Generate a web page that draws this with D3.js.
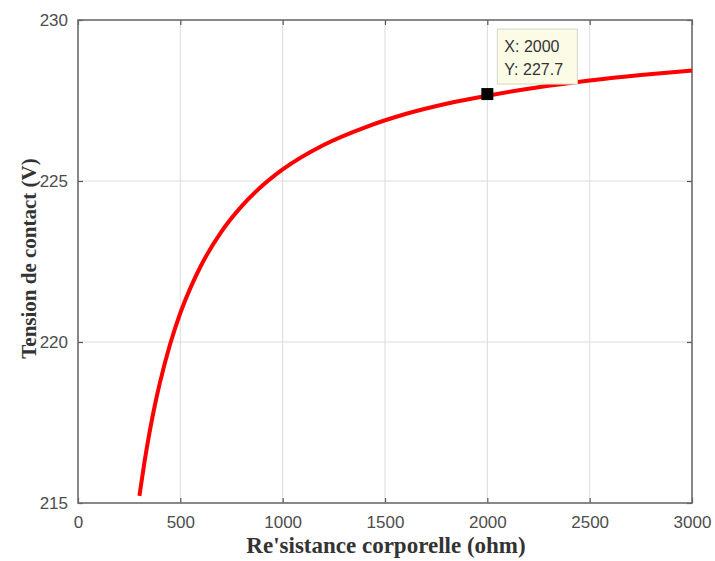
<!DOCTYPE html>
<html>
<head>
<meta charset="utf-8">
<script src="https://cdn.jsdelivr.net/npm/d3@7"></script>
<style>
  body { margin: 0; background: #fff; }
  .tick text { font-family: "Liberation Sans", Arial, sans-serif; font-size: 17px; fill: #4d4d4d; }
  .axislabel { font-family: "Liberation Serif", "Times New Roman", serif; font-weight: bold; fill: #333; }
</style>
</head>
<body>
<div id="chart"></div>
<script>
// resistance (ohm) and contact voltage (V)
var resistance = [300, 325, 350, 375, 400, 450, 500, 550, 600, 700, 800, 900, 1000, 1200, 1400, 1600, 1800, 2000, 2250, 2500, 2750, 3000];
var tension    = [215.22, 216.28, 217.21, 218.02, 218.73, 219.93, 220.9, 221.69, 222.36, 223.42, 224.22, 224.85, 225.36, 226.12, 226.66, 227.08, 227.4, 227.65, 227.91, 228.12, 228.29, 228.43];

var xTicks = [0, 500, 1000, 1500, 2000, 2500, 3000];
var yTicks = [215, 220, 225, 230];

var tipX = 2000, tipY = 227.7;

var W = 715, H = 561;
var margin = {top: 20, right: 23, bottom: 58, left: 78};
var w = W - margin.left - margin.right,
    h = H - margin.top - margin.bottom;

var svg = d3.select("#chart")
            .append("svg")
            .attr("width", W)
            .attr("height", H)
            .append("g")
            .attr("transform", "translate(" + margin.left + "," + margin.top + ")");

/***Scales***/
var xScale = d3.scaleLinear().domain([0, 3000]).range([0, w]);
var yScale = d3.scaleLinear().domain([215, 230]).range([h, 0]);

/***Grid***/
svg.append("g")
   .selectAll("line")
   .data(xTicks.slice(1, -1))
   .enter().append("line")
   .attr("x1", function(d){ return xScale(d); })
   .attr("x2", function(d){ return xScale(d); })
   .attr("y1", 0).attr("y2", h)
   .attr("stroke", "#dcdcdc").attr("stroke-width", 1);

svg.append("g")
   .selectAll("line")
   .data(yTicks.slice(1, -1))
   .enter().append("line")
   .attr("y1", function(d){ return yScale(d); })
   .attr("y2", function(d){ return yScale(d); })
   .attr("x1", 0).attr("x2", w)
   .attr("stroke", "#dcdcdc").attr("stroke-width", 1);

/***Axes***/
var xAxis = d3.axisBottom(xScale).tickValues(xTicks).tickFormat(d3.format("d"))
              .tickSizeInner(-5).tickSizeOuter(0).tickPadding(13);
var yAxis = d3.axisLeft(yScale).tickValues(yTicks).tickFormat(d3.format("d"))
              .tickSizeInner(-5).tickSizeOuter(0).tickPadding(10);
var xTop = d3.axisTop(xScale).tickValues(xTicks).tickSizeInner(-5).tickSizeOuter(0).tickFormat("");
var yRight = d3.axisRight(yScale).tickValues(yTicks).tickSizeInner(-5).tickSizeOuter(0).tickFormat("");

svg.append("g").attr("class", "xaxis").attr("transform", "translate(0," + h + ")").call(xAxis);
svg.append("g").attr("class", "yaxis").call(yAxis);
svg.append("g").attr("class", "xtop").call(xTop);
svg.append("g").attr("class", "yright").attr("transform", "translate(" + w + ",0)").call(yRight);

svg.selectAll(".domain").style("display", "none");
svg.selectAll(".tick line").attr("stroke", "#555").attr("stroke-width", 1.2);

/***Frame***/
svg.append("rect")
   .attr("x", 0).attr("y", 0)
   .attr("width", w).attr("height", h)
   .attr("fill", "none")
   .attr("stroke", "#6b6b6b")
   .attr("stroke-width", 1.6);

/***Curve***/
var data = resistance.map(function(r, i){ return {r: r, v: tension[i]}; });
var line = d3.line()
             .curve(d3.curveMonotoneX)
             .x(function(d){ return xScale(d.r); })
             .y(function(d){ return yScale(d.v); });

svg.append("path")
   .datum(data)
   .attr("d", line)
   .attr("fill", "none")
   .attr("stroke", "#f00")
   .attr("stroke-width", 4);

/***Data tip***/
svg.append("rect")
   .attr("x", xScale(tipX) - 6)
   .attr("y", yScale(tipY) - 6)
   .attr("width", 12).attr("height", 12)
   .attr("fill", "#000");

var tip = svg.append("g")
             .attr("transform", "translate(" + (xScale(tipX) + 10) + "," + (yScale(tipY) - 65) + ")");
tip.append("rect")
   .attr("width", 80).attr("height", 55)
   .attr("fill", "#fbfbe6")
   .attr("stroke", "#d6d6c8").attr("stroke-width", 1);
tip.append("text")
   .attr("x", 7).attr("y", 23)
   .attr("font-family", "Liberation Sans, Arial, sans-serif")
   .attr("font-size", 16).attr("fill", "#333")
   .text("X: " + tipX);
tip.append("text")
   .attr("x", 7).attr("y", 46)
   .attr("font-family", "Liberation Sans, Arial, sans-serif")
   .attr("font-size", 16).attr("fill", "#333")
   .text("Y: " + tipY);

/***Axis labels***/
svg.append("text")
   .attr("class", "axislabel")
   .attr("x", w / 2 + 1)
   .attr("y", h + 50)
   .attr("font-size", 23)
   .attr("text-anchor", "middle")
   .text("Re'sistance corporelle (ohm)");

svg.append("text")
   .attr("class", "axislabel")
   .attr("font-size", 21)
   .attr("transform", "translate(" + (-42) + "," + (h / 2 - 3) + ") rotate(-90)")
   .attr("text-anchor", "middle")
   .text("Tension de contact (V)");
</script>
</body>
</html>
